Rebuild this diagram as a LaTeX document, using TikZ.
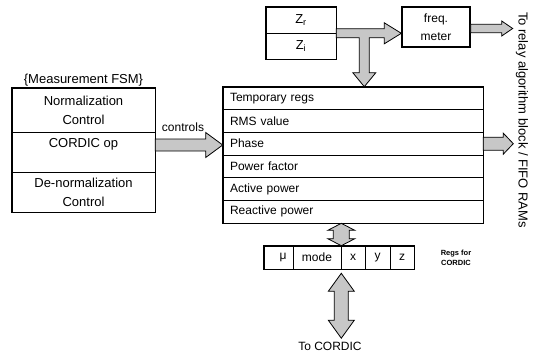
\documentclass[tikz,border=0pt]{standalone}
\usepackage{fontspec}
\setmainfont{Liberation Sans}
\usetikzlibrary{positioning,calc}
\tikzset{
  frame/.style={draw, line width=1.4pt},
  fat/.style={draw, line width=0.8pt, fill=black!22, line join=miter},
  reg/.style={draw, line width=0.6pt, minimum width=260pt, minimum height=22.67pt, inner xsep=7pt, inner ysep=0pt, text width=246pt, align=left, font=\fontsize{12}{14}\selectfont},
  fsmrow/.style={draw, line width=0.6pt, minimum width=143pt, inner sep=0pt, align=center, font=\fontsize{13}{19}\selectfont},
  cell/.style={draw, line width=0.6pt, minimum height=23pt, inner sep=0pt, font=\fontsize{12}{14}\selectfont},
}
\begin{document}
\begin{tikzpicture}[x=1pt,y=-1pt]
	\useasboundingbox (0,0) rectangle (542,354);
	\newcommand{\fatright}[5]{
		\draw[fat] ($(#1)+(0,-#3)$) -- ($(#2)+(-#5,-#3)$) -- ($(#2)+(-#5,-#4)$) -- (#2) -- ($(#2)+(-#5,#4)$) -- ($(#2)+(-#5,#3)$) -- ($(#1)+(0,#3)$) -- cycle;
	}
	\newcommand{\fatboth}[5]{
		\draw[fat] (#1) -- ($(#1)+(#4,#5)$) -- ($(#1)+(#3,#5)$) -- ($(#2)+(#3,-#5)$) -- ($(#2)+(#4,-#5)$) -- (#2) -- ($(#2)+(-#4,-#5)$) -- ($(#2)+(-#3,-#5)$) -- ($(#1)+(-#3,#5)$) -- ($(#1)+(-#4,#5)$) -- cycle;
	}
	% measurement FSM
	\node[fsmrow, minimum height=44pt] (norm) at (83.5,110) {Normalization\\Control};
	\node[fsmrow, minimum height=40pt] (cord) at (83.5,152) {CORDIC op\\~};
	\node[fsmrow, minimum height=40pt] (denorm) at (83.5,192) {De-normalization\\Control};
	\draw[frame] (norm.north west) rectangle (denorm.south east);
	\node[above=0pt of norm, inner sep=1pt, font=\fontsize{13}{15}\selectfont] (fsmtitle) {\{Measurement FSM\}};
	% register file
	\foreach \i/\txt in {1/Temporary regs, 2/RMS value, 3/Phase, 4/Power factor, 5/Active power, 6/Reactive power}
		\node[reg] (r\i) at (353,{87+22.67*(\i-0.5)}) {\txt};
	\draw[frame] (r1.north west) rectangle (r6.south east);
	% impedance and frequency
	\node[cell, minimum width=70pt, minimum height=26pt, font=\fontsize{13}{15}\selectfont] (zr) at (301,20) {Z\textsubscript{r}};
	\node[cell, minimum width=70pt, minimum height=26pt, font=\fontsize{13}{15}\selectfont] (zi) at (301,46) {Z\textsubscript{i}};
	\draw[frame] (zr.north west) rectangle (zi.south east);
	\node[frame, minimum width=68pt, minimum height=40pt, align=center, font=\fontsize{12}{18}\selectfont] (freq) at (436,27) {freq.\\meter};
	% CORDIC regs
	\foreach \n/\xa/\xb/\lbl in {cmu/264/293/\hspace*{9pt}μ, cmode/293/341/mode, cx/341/365/x, cy/365/390/y, cz/390/414/z}
		\node[cell, minimum width={\xb-\xa}] (\n) at ({(\xa+\xb)/2},257.5) {\lbl};
	\draw[frame] (cmu.north west) rectangle (cz.south east);
	\node[align=center, font=\bfseries\fontsize{7.5}{10}\selectfont] (regslbl) at (456,258) {Regs for\\CORDIC};
	% labels
	\node[rotate=-90, font=\fontsize{13}{15}\selectfont] (relay) at (522,120) {To relay algorithm block / FIFO RAMs};
	\node[font=\fontsize{12}{14}\selectfont] (tocordic) at (330,346) {To CORDIC};
	\node[font=\fontsize{12}{14}\selectfont] (ctllbl) at (183,127) {controls};
	% arrows
	\coordinate (zs) at (zr.south east);
	\coordinate (zt) at (zs -| freq.west);
	\coordinate (zb) at ($(zs)+(28,0)$);
	\coordinate (zd) at (zb |- r1.north);
	\draw[fat] ($(zs)+(0,-4.5)$) -- ($(zt)+(-17,-4.5)$) -- ($(zt)+(-17,-10.5)$) -- (zt) -- ($(zt)+(-17,10.5)$) -- ($(zt)+(-17,4.5)$)
		-- ($(zb)+(5,4.5)$) -- ($(zd)+(5,-14)$) -- ($(zd)+(11.5,-14)$) -- (zd) -- ($(zd)+(-11.5,-14)$) -- ($(zd)+(-5,-14)$)
		-- ($(zb)+(-5,4.5)$) -- ($(zs)+(0,4.5)$) -- cycle;
	\coordinate (f0) at ($(freq.east)+(0,1.5)$);
	\coordinate (f1) at ($(f0)+(42,0)$);
	\fatright{f0}{f1}{4.2}{7.5}{11}
	\coordinate (p0) at (r3.east);
	\coordinate (p1) at ($(p0)+(30,0)$);
	\fatright{p0}{p1}{6.5}{10.5}{10}
	\coordinate (ctl0) at ($(cord.east)+(0,-7)$);
	\coordinate (ctl1) at (ctl0 -| r1.west);
	\fatright{ctl0}{ctl1}{6}{12.5}{17}
	\coordinate (m1) at (cmode.north east |- r6.south);
	\coordinate (m2) at (cmode.north east);
	\fatboth{m1}{m2}{8}{13.5}{7}
	\coordinate (c1) at ($(cmode.south east)+(0,4)$);
	\coordinate (c2) at (c1 |- tocordic.north);
	\fatboth{c1}{c2}{7}{13}{18}
\end{tikzpicture}
\end{document}
